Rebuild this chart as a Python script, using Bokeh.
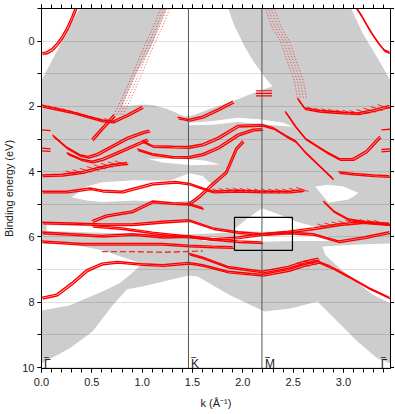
import numpy as np
from bokeh.plotting import figure
from bokeh.models import Range1d, Span, LinearAxis, FixedTicker, Label
from bokeh.embed import file_html
from bokeh.resources import INLINE

# ---------------- high-symmetry points (k in 1/Angstrom) ----------------
K_POS = 1.46
M_POS = 2.19
G2_POS = 3.455
X_MAX = 3.467
x_ticks = [0.0, 0.5, 1.0, 1.5, 2.0, 2.5, 3.0]
y_ticks = [0, 2, 4, 6, 8, 10]
sym_labels = ["Γ", "K", "M", "Γ"]
sym_label_k = [0.025, 1.485, 2.22, 3.37]

# ---------------- projected bulk bands (grey) ----------------
bulk_k = [0.0, 0.387, 1.252, 1.182, 1.083, 0.934, 0.834, 0.805, 1.0, 1.10, 1.25, 1.42, 1.5, 1.7, 1.9, 2.1, 2.295,
          2.225, 2.096, 2.026, 1.917, 1.848, 3.069, 3.189, 3.338, 3.47, 3.47, 3.338, 3.139, 2.94, 2.742, 2.473,
          2.215, 1.877, 1.55, 1.46, 1.003, 0.85, 0.705, 0.507, 0.278, 0.0]
bulk_E = [1.20, -1.05, -1.05, -0.55, 0.21, 1.04, 1.75, 2.0, 1.94, 1.96, 2.08, 2.30, 2.28, 2.05, 1.84, 1.6, 1.38,
          1.13, 0.58, 0.21, -0.46, -1.05, -1.05, -0.25, 0.52, 1.23, 9.88, 9.72, 9.2, 8.59, 7.98, 8.19,
          8.28, 7.79, 7.21, 7.18, 7.52, 7.6, 8.1, 8.9, 9.42, 9.88]

# gaps (white) inside the projected bulk continuum
gapL_k = [0.0, 0.308, 0.606, 0.904, 1.003, 0.904, 0.775, 0.606, 0.278, 0.0]
gapL_E = [6.2, 6.23, 6.41, 6.72, 6.8, 7.1, 7.42, 7.67, 8.1, 8.25]
gapR_k = [2.79, 3.0, 3.2, 3.47, 3.47, 3.288, 3.089, 2.94, 2.82]
gapR_E = [6.29, 6.25, 6.22, 6.2, 8.04, 7.76, 7.27, 6.9, 6.55]
gapA_k = [1.46, 1.7, 1.95, 2.19, 2.4, 2.5, 2.4, 2.19, 1.95, 1.7, 1.46]
gapA_E = [2.5, 2.45, 2.35, 2.4, 2.5, 2.62, 2.6, 2.55, 2.48, 2.56, 2.58]
gapB_k = [0.3, 0.45, 0.6, 0.93, 1.27, 1.47, 1.6, 1.7, 1.7, 1.5, 1.27, 0.93, 0.6, 0.45]
gapB_E = [4.78, 4.45, 4.32, 4.26, 4.28, 4.05, 4.13, 4.42, 4.5, 4.88, 4.95, 4.88, 4.93, 4.88]
gapC_k = [0.05, 0.6, 1.0, 1.3, 1.46, 1.7, 1.9, 1.5, 1.0, 0.5, 0.05]
gapC_E = [5.64, 5.67, 5.64, 5.56, 5.52, 5.72, 5.86, 5.92, 5.9, 5.86, 5.82]
gapD_k = [1.9, 2.05, 2.19, 2.35, 2.55, 2.8, 2.55, 2.19]
gapD_E = [5.8, 5.42, 5.12, 5.3, 5.55, 5.75, 5.8, 5.85]
gapE_k = [1.6, 1.9, 2.19, 2.5, 2.85, 2.85, 2.5, 2.19, 1.9, 1.6]
gapE_E = [6.02, 5.98, 5.97, 5.94, 5.97, 6.12, 6.12, 6.15, 6.16, 6.12]
gapF_k = [1.05, 1.3, 1.46, 1.62, 1.78, 1.5, 1.2]
gapF_E = [3.6, 3.6, 3.62, 3.66, 3.78, 3.8, 3.72]
gapG_k = [2.72, 2.85, 3.0, 3.15, 3.05, 2.85]
gapG_E = [4.45, 4.4, 4.45, 4.65, 4.85, 4.95]

# ---------------- surface states (red) ----------------
ssG1_k = [0.0, 0.05, 0.1, 0.15, 0.2, 0.25, 0.3, 0.34]
ssG1_E = [0.36, 0.33, 0.24, 0.08, -0.13, -0.4, -0.74, -1.05]
ssG2_k = [3.455, 3.40, 3.34, 3.28, 3.22, 3.17, 3.12]
ssG2_E = [0.33, 0.26, 0.03, -0.24, -0.55, -0.82, -1.05]
dotL_k = [0.72, 0.80, 0.876, 0.94, 1.0, 1.06, 1.12, 1.19]
dotL_E = [2.25, 1.75, 1.23, 0.75, 0.3, -0.1, -0.5, -1.05]
dotR_k = [2.215, 2.295, 2.374, 2.44, 2.513, 2.543]
dotR_E = [-1.05, -0.4, 0.0, 0.6, 1.23, 1.75]
s_up_k = [0.50, 0.58, 0.66, 0.72]
s_up_E = [3.0, 2.72, 2.45, 2.25]
bandL_k = [0.0, 0.28, 0.6, 0.71, 0.85, 1.0]
bandL_E = [1.97, 2.15, 2.42, 2.45, 2.25, 2.0]
bandR_k = [2.543, 2.612, 2.75, 2.871, 3.0, 3.139, 3.3, 3.455]
bandR_E = [1.75, 2.05, 2.12, 2.15, 2.18, 2.2, 2.1, 1.97]
bandK_k = [1.35, 1.46, 1.6, 1.75, 1.9]
bandK_E = [2.33, 2.4, 2.3, 2.08, 1.84]
v1_k = [0.11, 0.25, 0.38, 0.46, 0.55, 0.7, 0.85, 1.0, 1.07]
v1_E = [2.88, 3.25, 3.48, 3.53, 3.45, 3.2, 2.95, 2.78, 2.73]
v2_k = [0.25, 0.4, 0.5, 0.6, 0.75, 0.9, 1.05]
v2_E = [3.42, 3.62, 3.68, 3.6, 3.4, 3.2, 3.0]
k1_k = [1.0, 1.1, 1.3, 1.46, 1.6, 1.75, 1.95, 2.19, 2.3, 2.42, 2.52, 2.62, 2.79, 2.89]
k1_E = [3.05, 3.2, 3.22, 3.23, 3.15, 2.95, 2.58, 2.55, 2.65, 2.88, 3.05, 3.4, 3.9, 4.2]
k2_k = [0.95, 1.1, 1.3, 1.46, 1.6, 1.75, 1.95, 2.1, 2.19]
k2_E = [3.3, 3.45, 3.53, 3.54, 3.45, 3.25, 2.85, 2.7, 2.68]
e41_k = [0.0, 0.2, 0.4, 0.55, 0.7, 0.85]
e41_E = [4.1, 4.08, 4.0, 3.88, 3.78, 3.72]
e46_k = [0.0, 0.25, 0.48, 0.6, 0.8, 0.92, 1.1, 1.33, 1.47, 1.6, 1.7, 1.93, 2.19, 2.46, 2.6]
e46_E = [4.6, 4.6, 4.5, 4.57, 4.6, 4.5, 4.35, 4.3, 4.36, 4.5, 4.6, 4.57, 4.6, 4.6, 4.55]
diag1_k = [1.45, 1.57, 1.7, 1.83, 1.93, 2.0]
diag1_E = [5.0, 4.72, 4.35, 4.0, 3.28, 3.05]
diag2_k = [0.5, 0.64, 0.9, 1.1, 1.3, 1.46, 1.6]
diag2_E = [5.5, 5.33, 5.2, 4.9, 4.95, 4.97, 5.1]
c1_k = [0.0, 0.3, 0.6, 0.9, 1.2, 1.46, 1.7, 1.95, 2.19, 2.45, 2.7, 2.95, 3.2, 3.455]
c1_E = [5.55, 5.57, 5.6, 5.6, 5.52, 5.47, 5.72, 5.84, 5.9, 5.82, 5.72, 5.6, 5.53, 5.58]
c2_k = [0.0, 0.3, 0.6, 0.9, 1.2, 1.46, 1.7, 1.95, 2.19, 2.45, 2.7, 2.95, 3.2, 3.455]
c2_E = [5.85, 5.9, 5.95, 5.9, 5.98, 5.96, 6.05, 6.0, 5.9, 5.85, 5.9, 6.12, 6.0, 5.84]
c3_k = [0.5, 0.8, 1.1, 1.4, 1.7, 1.95, 2.19]
c3_E = [5.65, 5.72, 5.85, 5.95, 6.05, 6.12, 6.15]
c4_k = [0.0, 0.4, 0.8, 1.2, 1.46, 1.7, 1.9]
c4_E = [6.12, 6.2, 6.2, 6.2, 6.25, 6.28, 6.3]
c5_k = [0.6, 0.9, 1.2, 1.4, 1.6]
c5_E = [6.45, 6.45, 6.47, 6.45, 6.43]
low_k = [0.0, 0.15, 0.3, 0.45, 0.6, 0.75, 1.0, 1.2, 1.46, 1.6, 1.85, 2.19, 2.45, 2.6, 2.75, 2.9, 3.05, 3.25, 3.455]
low_E = [7.85, 7.75, 7.4, 7.0, 6.8, 6.75, 6.82, 6.85, 6.78, 6.85, 7.05, 7.15, 7.0, 6.85, 6.75, 6.95, 7.2, 7.55, 7.85]
low2_k = [1.46, 1.6, 1.85, 2.19, 2.45, 2.6, 2.75]
low2_E = [6.5, 6.62, 6.9, 7.05, 6.9, 6.75, 6.65]
u1_k = [2.42, 2.52, 2.62, 2.82, 2.96, 3.09, 3.22, 3.36]
u1_E = [2.15, 2.6, 2.98, 3.37, 3.6, 3.6, 3.37, 2.91]
r41_k = [2.95, 3.1, 3.3, 3.455]
r41_E = [4.0, 4.05, 4.1, 4.12]
r3_k = [2.8, 2.9, 3.05, 3.25, 3.455]
r3_E = [4.9, 5.2, 5.45, 5.55, 5.6]
mtrip_k = [2.13, 2.29]
mtrip_E = [1.52, 1.6, 1.68]
stubL_E = [2.72, 3.28, 3.36]      # short states touching the left Gamma edge
stubR_E = [2.7, 3.3, 3.37]        # short states touching the right Gamma edge

# k-windows where the surface states appear as fragmented (hatched) resonances
hatch_sets = [(bandL_k, bandL_E, 0.05, 0.7), (bandR_k, bandR_E, 2.7, 3.42), (e46_k, e46_E, 1.75, 2.6),
              (e41_k, e41_E, 0.3, 0.8), (c1_k, c1_E, 2.8, 3.4), (low_k, low_E, 2.6, 2.85)]

# box marking the region of interest around M
box_k = [1.917, 2.493]
box_E = [5.40, 6.41]

GREY = "#cdcdcd"
RED = "#ff0000"
FONT = "Liberation Sans"

p = figure(frame_width=349, frame_height=360, x_range=Range1d(0, X_MAX), y_range=Range1d(10.03, -1.0),
           output_backend="svg", toolbar_location=None,
           min_border_left=0, min_border_right=4, min_border_top=8, min_border_bottom=0)
p.background_fill_color = "white"
p.outline_line_color = "black"

# grey continuum and white gaps
p.patch(bulk_k, bulk_E, fill_color=GREY, line_color=None, level="image")
for gk, ge in [(gapL_k, gapL_E), (gapR_k, gapR_E), (gapA_k, gapA_E), (gapB_k, gapB_E), (gapC_k, gapC_E),
               (gapD_k, gapD_E), (gapE_k, gapE_E), (gapF_k, gapF_E), (gapG_k, gapG_E)]:
    p.patch(gk, ge, fill_color="white", line_color=None, level="image")

# surface states
solid = [(ssG1_k, ssG1_E), (ssG2_k, ssG2_E), (s_up_k, s_up_E), (bandL_k, bandL_E), (bandR_k, bandR_E),
         (bandK_k, bandK_E), (v1_k, v1_E), (v2_k, v2_E), (k1_k, k1_E), (k2_k, k2_E), (e41_k, e41_E),
         (e46_k, e46_E), (diag1_k, diag1_E), (diag2_k, diag2_E), (c1_k, c1_E), (c2_k, c2_E), (c3_k, c3_E),
         (c4_k, c4_E), (low_k, low_E), (low2_k, low2_E), (u1_k, u1_E), (r41_k, r41_E), (r3_k, r3_E)]
xs, ys = [], []
for kk, ee in solid:
    xs.append(list(kk)); ys.append(list(ee))
    xs.append([v + 0.012 for v in kk]); ys.append([v + 0.05 for v in ee])
p.multi_line(xs, ys, line_color=RED, line_width=1.4)

# hatched fragments following the curves
hx, hy = [], []
for kk, ee, ka, kb in hatch_sets:
    for k0 in np.arange(ka, kb, 0.07):
        e0 = float(np.interp(k0, kk, ee))
        hx.append([k0 - 0.06, k0 + 0.06]); hy.append([e0 - 0.07, e0 + 0.05])
p.multi_line(hx, hy, line_color=RED, line_width=1.0, line_alpha=0.8)

# dashed resonance near 6.45 eV
p.line(c5_k, c5_E, line_color=RED, line_width=1.4, line_dash="6 3", line_alpha=0.8)

sx, sy = [], []
for e in stubL_E:
    sx.append([0.0, 0.09]); sy.append([e, e + 0.02])
for e in stubR_E:
    sx.append([X_MAX - 0.09, X_MAX]); sy.append([e + 0.02, e])
p.multi_line(sx, sy, line_color=RED, line_width=1.3)

for kk, ee in [(dotL_k, dotL_E), (dotR_k, dotR_E)]:
    for off in (0.0, 0.03, 0.06, 0.09):
        p.line([v + off for v in kk], ee, line_color=RED, line_width=1.0, line_dash="1 2", line_alpha=0.75)
for e in mtrip_E:
    p.line(mtrip_k, [e, e], line_color=RED, line_width=1.2)

# box
p.quad(left=box_k[0], right=box_k[1], top=box_E[0], bottom=box_E[1], fill_color=None,
       line_color="black", line_width=1.2)

for loc in (K_POS, M_POS):
    p.add_layout(Span(location=loc, dimension="height", line_color="#555555", line_width=1))

for txt, kk in zip(sym_labels, sym_label_k):
    p.add_layout(Label(x=kk, y=9.9, text=txt, text_font=FONT, text_font_size="12px",
                       text_baseline="alphabetic", text_color="#222222"))
    p.add_layout(Label(x=kk, y=9.9, y_offset=1, text="\u203e", text_font=FONT, text_font_size="12px",
                       text_baseline="alphabetic", text_color="#222222", x_offset=0.5))

# axes
xt = FixedTicker(ticks=x_ticks, minor_ticks=[round(0.1 * i, 2) for i in range(35)])
yt = FixedTicker(ticks=y_ticks, minor_ticks=list(range(-1, 11)))
p.xaxis.ticker = xt
p.yaxis.ticker = yt
p.xaxis.axis_label = "k (Å⁻¹)"
p.yaxis.axis_label = "Binding energy (eV)"
top = LinearAxis(ticker=xt)
right = LinearAxis(ticker=yt)
p.add_layout(top, "above")
p.add_layout(right, "right")
for ax in (p.xaxis + p.yaxis):
    ax.axis_line_color = "black"
    ax.major_tick_line_color = "black"
    ax.minor_tick_line_color = "black"
    ax.major_tick_in = 0
    ax.major_tick_out = 4
    ax.minor_tick_in = 0
    ax.minor_tick_out = 4
    ax.major_label_text_font = FONT
    ax.major_label_text_font_size = "11px"
    ax.major_label_text_color = "#222222"
    ax.axis_label_text_font = FONT
    ax.axis_label_text_font_size = "11px"
    ax.axis_label_text_font_style = "normal"
    ax.axis_label_text_color = "#222222"
for ax in (top, right):
    ax.major_label_text_font_size = "0px"
    ax.major_label_text_alpha = 0
    ax.major_label_standoff = 0
    ax.major_label_overrides = {v: "" for v in (x_ticks if ax is top else y_ticks)}
p.below[0].major_label_overrides = {v: f"{v:.1f}" for v in x_ticks}
p.below[0].axis_label_standoff = 8
p.left[0].axis_label_standoff = 4
p.left[0].major_label_standoff = 3
p.below[0].major_label_standoff = 5

p.xgrid.visible = False
p.ygrid.ticker = FixedTicker(ticks=list(range(-1, 11)))
p.ygrid.grid_line_color = "black"
p.ygrid.grid_line_alpha = 0.12

open("out.html", "w").write(file_html(p, INLINE))
